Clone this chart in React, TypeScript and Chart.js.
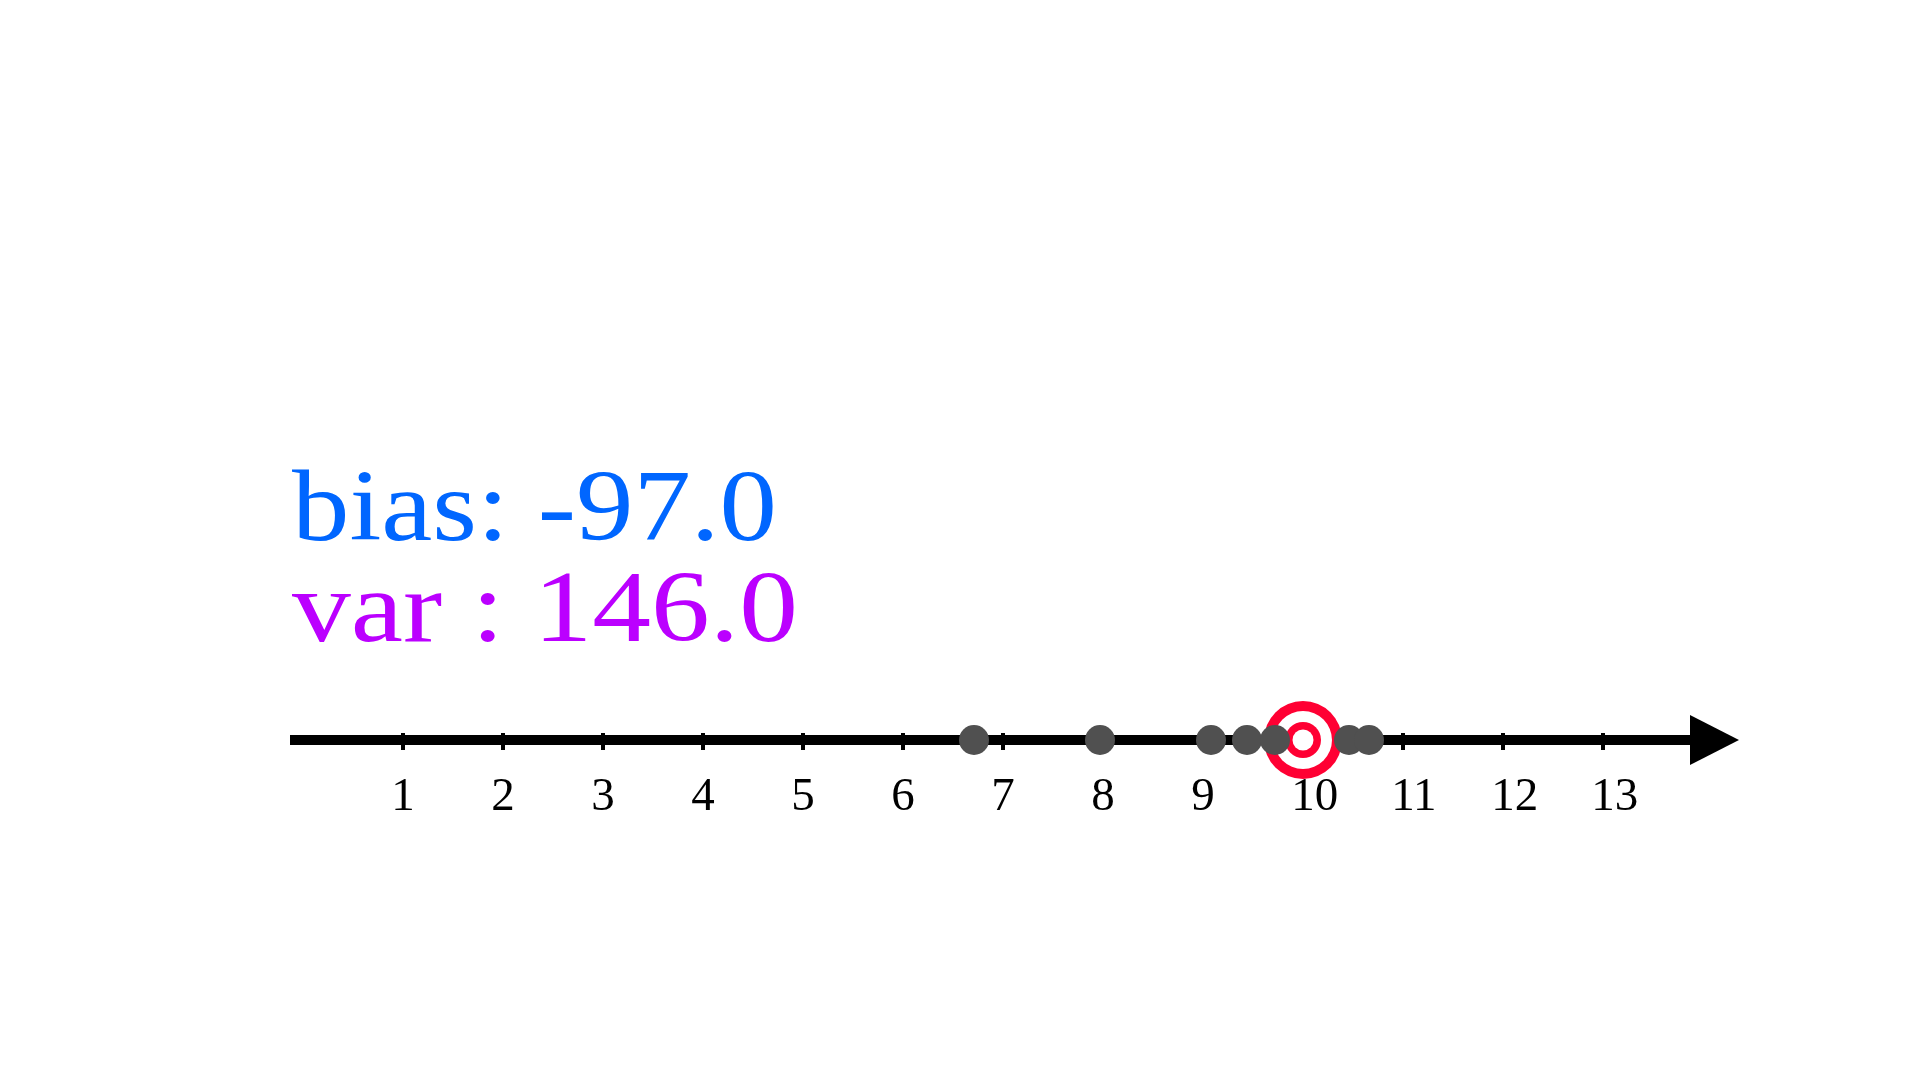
import React, { useEffect, useRef } from "react";
import { Chart, registerables } from "chart.js";

Chart.register(...registerables);

// ---- data ----
const tickValues = [1, 2, 3, 4, 5, 6, 7, 8, 9, 10, 11, 12, 13];
const tickLabels = ["1", "2", "3", "4", "5", "6", "7", "8", "9", "10", "11", "12", "13"];
const estimates = [6.71, 7.97, 9.08, 9.44, 9.72, 10.46, 10.66];
const targetValue = [10.0];
const axisStart = [-0.13];
const arrowBase = [13.87];
const arrowTip = [14.36];
const statLines = ["bias: -97.0", "var : 146.0"];
const statColors = ["#0066FF", "#BB00FF"];

const numberLinePlugin = {
  id: "numberLine",
  beforeDatasetsDraw(chart: any) {
    const ctx = chart.ctx;
    const x = chart.scales.x;
    const y = chart.scales.y;
    const y0 = y.getPixelForValue(0);
    ctx.save();
    // axis line
    ctx.strokeStyle = "#000";
    ctx.lineWidth = 10;
    ctx.beginPath();
    ctx.moveTo(x.getPixelForValue(axisStart[0]), y0);
    ctx.lineTo(x.getPixelForValue(arrowBase[0]) + 2, y0);
    ctx.stroke();
    // arrow head
    ctx.fillStyle = "#000";
    ctx.beginPath();
    ctx.moveTo(x.getPixelForValue(arrowBase[0]), y0 - 25);
    ctx.lineTo(x.getPixelForValue(arrowTip[0]), y0);
    ctx.lineTo(x.getPixelForValue(arrowBase[0]), y0 + 25);
    ctx.closePath();
    ctx.fill();
    // ticks
    tickValues.forEach((v) => {
      const px = x.getPixelForValue(v);
      ctx.fillRect(px - 2, y0 - 7, 4, 17);
    });
    // tick labels
    ctx.font = "47px 'Liberation Serif', serif";
    ctx.textAlign = "left";
    ctx.textBaseline = "alphabetic";
    const half = ctx.measureText("0").width / 2;
    tickValues.forEach((v, i) => {
      const px = x.getPixelForValue(v);
      ctx.fillText(tickLabels[i], px - half, y0 + 70);
    });
    ctx.restore();
  },
  afterDraw(chart: any) {
    const ctx = chart.ctx;
    const left = chart.chartArea.left + 2;
    const baselines = [540, 641];
    const widths = [485, 506];
    ctx.save();
    ctx.font = "102px 'Liberation Serif', serif";
    ctx.textAlign = "left";
    ctx.textBaseline = "alphabetic";
    statLines.forEach((t, i) => {
      const w = ctx.measureText(t).width;
      const s = widths[i] / w;
      ctx.save();
      ctx.translate(left, baselines[i]);
      ctx.scale(s, 1);
      ctx.fillStyle = statColors[i];
      ctx.fillText(t, 0, 0);
      ctx.restore();
    });
    ctx.restore();
  },
};

export default function App() {
  const ref = useRef<HTMLCanvasElement | null>(null);
  useEffect(() => {
    document.body.style.margin = "0";
    const canvas = ref.current;
    if (!canvas) return;
    const pts = (arr: number[]) => arr.map((v) => ({ x: v, y: 0 }));
    const chart = new Chart(canvas, {
      type: "scatter",
      data: {
        datasets: [
          { data: pts(estimates), pointRadius: 15, pointBackgroundColor: "#505050", pointBorderWidth: 0, order: 0 },
          { data: pts(targetValue), pointRadius: 10.5, pointBackgroundColor: "#FFFFFF", pointBorderWidth: 0, order: 1 },
          { data: pts(targetValue), pointRadius: 18, pointBackgroundColor: "#FF0033", pointBorderWidth: 0, order: 2 },
          { data: pts(targetValue), pointRadius: 29, pointBackgroundColor: "#FFFFFF", pointBorderWidth: 0, order: 3 },
          { data: pts(targetValue), pointRadius: 39, pointBackgroundColor: "#FF0033", pointBorderWidth: 0, order: 4 },
        ],
      },
      options: {
        animation: false,
        responsive: false,
        maintainAspectRatio: false,
        devicePixelRatio: 1,
        layout: { padding: { left: 290, right: 181, top: 640, bottom: 240 } },
        scales: {
          x: { type: "linear", min: axisStart[0], max: arrowTip[0], display: false },
          y: { type: "linear", min: -1, max: 1, display: false },
        },
        plugins: { legend: { display: false }, tooltip: { enabled: false }, title: { display: false } },
        elements: { point: { hoverRadius: 0 } },
      },
      plugins: [numberLinePlugin],
    });
    return () => chart.destroy();
  }, []);
  return <canvas ref={ref} width={1920} height={1080} style={{ display: "block", width: 1920, height: 1080 }} />;
}
